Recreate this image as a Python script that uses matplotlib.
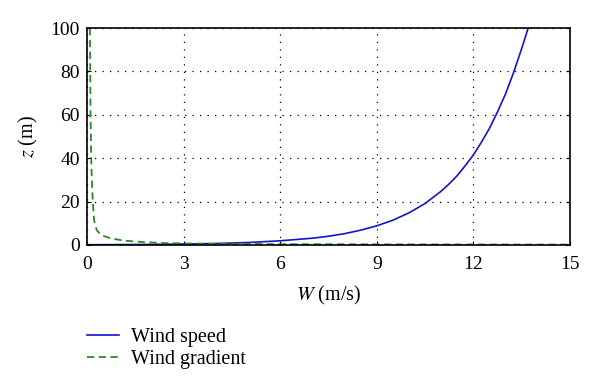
import matplotlib
matplotlib.use("Agg")
import matplotlib.pyplot as plt

# Wind speed profile
speed_w = [0.0, 1.0, 2.0, 3.0, 4.0, 5.0, 6.0, 7.0, 7.5, 8.0, 8.5, 9.0, 9.5,
           10.0, 10.5, 11.0, 11.25, 11.5, 11.75, 12.0, 12.25, 12.5, 12.75,
           13.0, 13.25, 13.5, 13.7]
speed_z = [0.08, 0.14, 0.23, 0.39, 0.66, 1.1, 1.9, 3.1, 4.0, 5.2, 6.8, 8.8,
           11.4, 14.8, 19.1, 24.8, 28.2, 32.0, 36.6, 41.5, 47.4, 53.8, 61.4,
           69.7, 79.6, 90.6, 100.0]

# Wind gradient
grad_w = [0.09, 0.10, 0.11, 0.13, 0.15, 0.18, 0.22, 0.30, 0.43, 0.72, 1.13,
          1.65, 2.3, 3.0, 4.0, 6.0, 9.0, 15.0]
grad_z = [100.0, 80.0, 60.0, 40.0, 30.0, 20.0, 11.5, 6.9, 4.6, 3.1, 2.0,
          1.4, 0.9, 0.7, 0.5, 0.35, 0.25, 0.15]

xticks = [0, 3, 6, 9, 12, 15]
yticks = [0, 20, 40, 60, 80, 100]

plt.rcParams['font.family'] = ['Liberation Serif', 'DejaVu Serif']
plt.rcParams['mathtext.fontset'] = 'stix'

fig = plt.figure(figsize=(6, 3.9), dpi=100)
ax = fig.add_axes([0.145, 0.372, 0.805, 0.556])

l1, = ax.plot(speed_w, speed_z, color='#1414c8', lw=1.2, label='Wind speed')
l2, = ax.plot(grad_w, grad_z, color='#2a8a2a', lw=1.3, ls=(0, (4, 2.5)),
              label='Wind gradient')

ax.set_xlim(0, 15)
ax.set_ylim(0, 100)
ax.set_xticks(xticks)
ax.set_yticks(yticks)
ax.tick_params(direction='in', length=3, labelsize=14)
ax.tick_params(axis='x', pad=8)
ax.tick_params(axis='y', pad=5)
ax.tick_params(top=False, right=True)
ax.grid(True, color='black', ls=(0, (1, 5)), lw=0.9)
for sp in ax.spines.values():
    sp.set_linewidth(1.2)

ax.set_xlabel(r'$W$ (m/s)', fontsize=14.5, labelpad=8)
ax.set_ylabel(r'$z$ (m)', fontsize=14.5, labelpad=8)

fig.legend(handles=[l1, l2], loc='center left', bbox_to_anchor=(0.145, 0.107),
           frameon=False, fontsize=14.5, handlelength=1.6, handletextpad=0.6,
           labelspacing=0.15, borderaxespad=0, borderpad=0)

fig.savefig('out.png', dpi=100)
